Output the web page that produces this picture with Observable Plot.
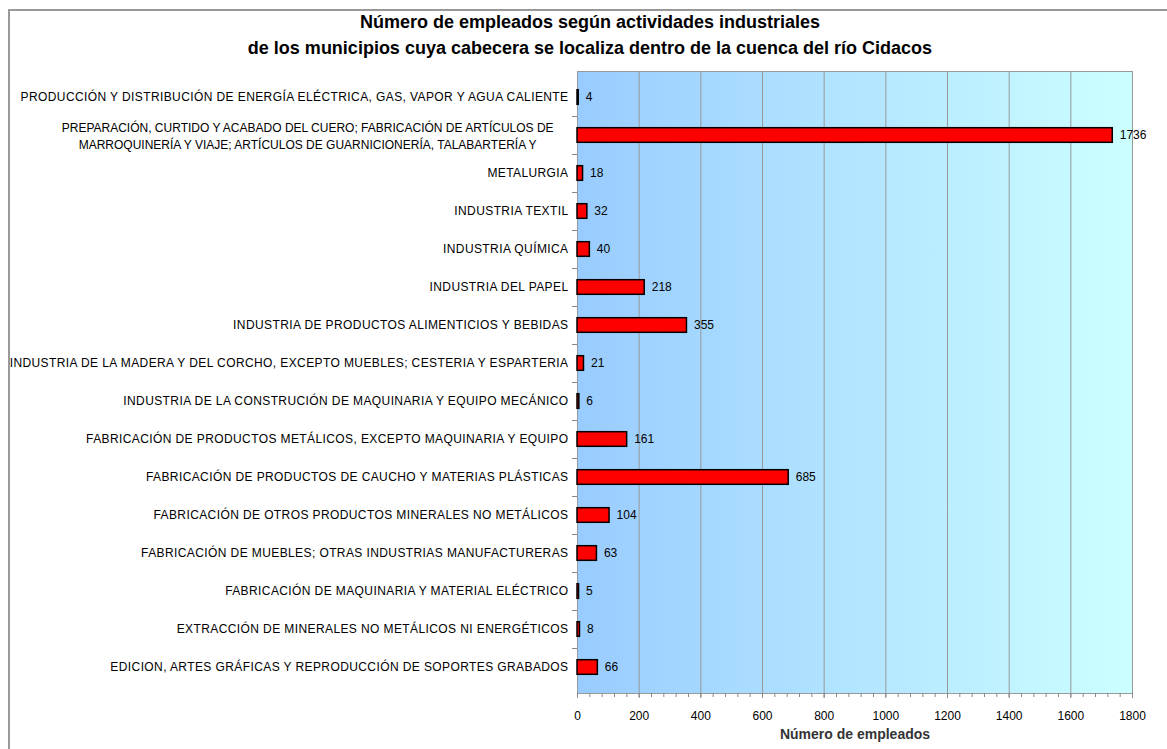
<!DOCTYPE html>
<html>
<head>
<meta charset="utf-8">
<script src="https://cdn.jsdelivr.net/npm/d3@7"></script>
<script src="https://cdn.jsdelivr.net/npm/@observablehq/plot@0.6"></script>
<style>
  html, body { margin: 0; padding: 0; background: #fff; overflow: hidden; width: 1167px; height: 749px; }
  #frame { position: absolute; left: 8px; top: 9px; width: 1200px; height: 800px; border: 2px solid #999; box-sizing: border-box; }
  #title { position: absolute; left: 0; top: 9px; width: 1180px; text-align: center; font-family: "Liberation Sans", Arial, sans-serif; font-weight: bold; font-size: 18px; line-height: 26px; color: #000; }
  #chart { position: absolute; left: 0; top: 62px; }
  #chart [aria-label="y-axis tick label"] text, #chart [aria-label="multiline-label"] text { letter-spacing: 0.4px; }
  #chart [aria-label="x-title"] text { letter-spacing: 2.3px; }
</style>
</head>
<body>
<div id="frame"></div>
<div id="title">Número de empleados según actividades industriales<br>de los municipios cuya cabecera se localiza dentro de la cuenca del río Cidacos</div>
<div id="chart"></div>
<script>
const categories = [
  "PRODUCCIÓN Y DISTRIBUCIÓN DE ENERGÍA ELÉCTRICA, GAS, VAPOR Y AGUA CALIENTE",
  "PREPARACIÓN, CURTIDO Y ACABADO DEL CUERO; FABRICACIÓN DE ARTÍCULOS DE\nMARROQUINERÍA Y VIAJE; ARTÍCULOS DE GUARNICIONERÍA, TALABARTERÍA Y",
  "METALURGIA",
  "INDUSTRIA TEXTIL",
  "INDUSTRIA QUÍMICA",
  "INDUSTRIA DEL PAPEL",
  "INDUSTRIA DE PRODUCTOS ALIMENTICIOS Y BEBIDAS",
  "INDUSTRIA DE LA MADERA Y DEL CORCHO, EXCEPTO MUEBLES; CESTERIA Y ESPARTERIA",
  "INDUSTRIA DE LA CONSTRUCIÓN DE MAQUINARIA Y EQUIPO MECÁNICO",
  "FABRICACIÓN DE PRODUCTOS METÁLICOS, EXCEPTO MAQUINARIA Y EQUIPO",
  "FABRICACIÓN DE PRODUCTOS DE CAUCHO Y MATERIAS PLÁSTICAS",
  "FABRICACIÓN DE OTROS PRODUCTOS MINERALES NO METÁLICOS",
  "FABRICACIÓN DE MUEBLES; OTRAS INDUSTRIAS MANUFACTURERAS",
  "FABRICACIÓN DE MAQUINARIA Y MATERIAL ELÉCTRICO",
  "EXTRACCIÓN DE MINERALES NO METÁLICOS NI ENERGÉTICOS",
  "EDICION, ARTES GRÁFICAS Y REPRODUCCIÓN DE SOPORTES GRABADOS"
];
const empleados = [4, 1736, 18, 32, 40, 218, 355, 21, 6, 161, 685, 104, 63, 5, 8, 66];
const majorTicks = [0, 200, 400, 600, 800, 1000, 1200, 1400, 1600, 1800];
const minorTicks = d3.range(0, 1801, 40);
const xTitle = "Número de empleados";

const data = categories.map((c, i) => ({cat: c, value: empleados[i]}));
const multiLine = data.filter(d => d.cat.includes("\n"));

const font = "'Liberation Sans', Arial, sans-serif";
const labelSize = 12;
const labelSpacing = 0.4;
const labelPad = 9;
const barInset = 11.7;

// measure widest line of a multi-line label so its lines can be centred in a right-aligned block
const ctx = document.createElement("canvas").getContext("2d");
ctx.font = `${labelSize}px 'Liberation Sans'`;
function blockWidth(s) {
  return d3.max(s.split("\n"), l => ctx.measureText(l).width + labelSpacing * l.length);
}

// boundary ticks on the left axis between categories
function bandBoundaryTicks(index, scales, values, dimensions) {
  const y = scales.y;
  const step = y.step();
  const g = d3.create("svg:g").attr("stroke", "#888").attr("stroke-width", 1);
  const x0 = dimensions.marginLeft;
  const start = y(categories[0]);
  for (let i = 1; i < categories.length; i++) {
    const yy = Math.round(start + i * step) + 0.5;
    g.append("line").attr("x1", x0 - 5).attr("x2", x0).attr("y1", yy).attr("y2", yy);
  }
  return g.node();
}

const plot = Plot.plot({
  width: 1167,
  height: 687,
  marginLeft: 577,
  marginRight: 35,
  marginTop: 9,
  marginBottom: 56,
  style: {fontFamily: font, fontSize: "12px", color: "#000", background: "transparent"},
  x: {domain: [0, 1800], label: null},
  y: {domain: categories, padding: 0, label: null},
  marks: [
    Plot.frame({fill: "url(#bgGrad)", stroke: null}),
    Plot.gridX({ticks: majorTicks.slice(1, -1), stroke: "#999", strokeOpacity: 1, strokeWidth: 1}),
    Plot.frame({stroke: "#999", strokeWidth: 1}),
    Plot.barX(data, {x: "value", y: "cat", fill: "#ff0000", stroke: "#000", strokeWidth: 1.5, insetTop: barInset, insetBottom: barInset}),
    Plot.text(data, {x: "value", y: "cat", text: d => String(d.value), textAnchor: "start", dx: 7, fontSize: 12, fill: "#000"}),
    Plot.axisX({ticks: minorTicks, tickSize: 4, stroke: "#888", text: null, label: null}),
    Plot.axisX({ticks: majorTicks, tickSize: 5, tickPadding: 13, stroke: "#888", fill: "#000", fontSize: 12, label: null, tickFormat: d => String(d)}),
    Plot.axisY({tickSize: 0, tickPadding: labelPad, fill: "#000", fontSize: labelSize, lineWidth: Infinity, label: null,
      tickFormat: d => d.includes("\n") ? "" : d}),
    Plot.text(multiLine, {x: 0, y: "cat", text: "cat", textAnchor: "middle", lineWidth: Infinity, lineHeight: 1.4,
      dx: -(labelPad + blockWidth(multiLine[0].cat) / 2), fontSize: labelSize, fill: "#000", ariaLabel: "multiline-label"}),
    bandBoundaryTicks,
    Plot.text([xTitle], {frameAnchor: "bottom", dy: 45, fontSize: 14, fontWeight: "bold", fill: "#333", text: d => d, ariaLabel: "x-title"})
  ]
});

const defs = d3.select(plot).insert("defs", ":first-child");
const grad = defs.append("linearGradient").attr("id", "bgGrad").attr("x1", "0%").attr("x2", "100%").attr("y1", "0%").attr("y2", "0%");
grad.append("stop").attr("offset", "0%").attr("stop-color", "#99ccff");
grad.append("stop").attr("offset", "100%").attr("stop-color", "#ccffff");

document.getElementById("chart").appendChild(plot);
</script>
</body>
</html>
